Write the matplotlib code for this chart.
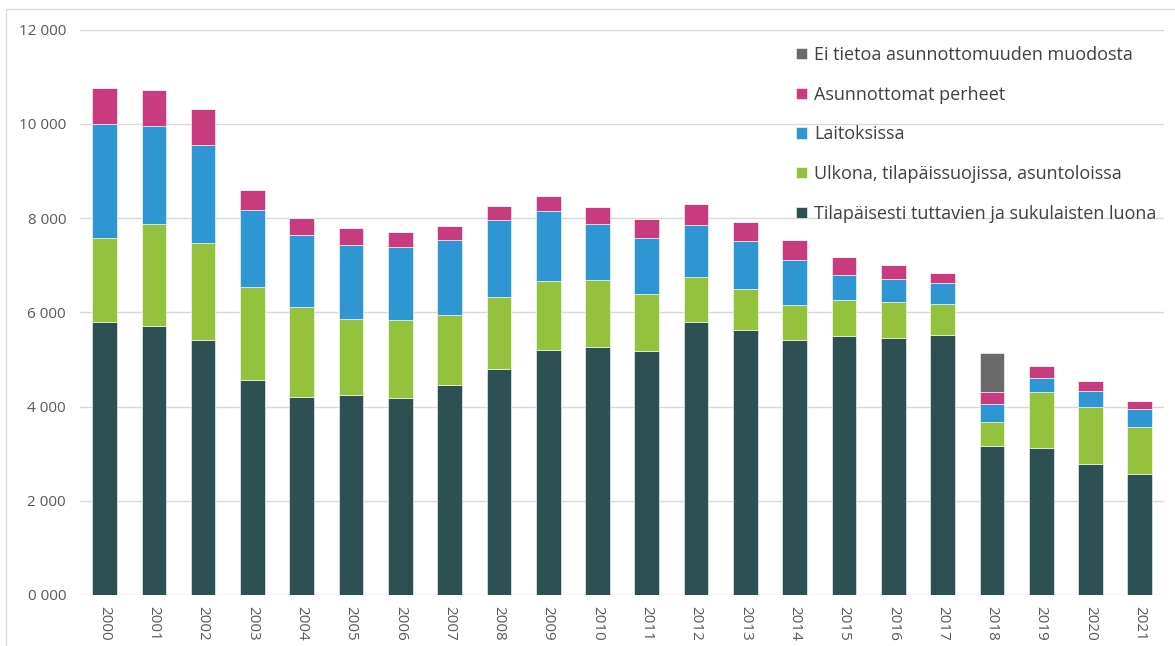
import numpy as np
import matplotlib.pyplot as plt
from matplotlib.patches import Rectangle

years = [str(y) for y in range(2000, 2022)]
tuttavat = [5800, 5710, 5420, 4570, 4200, 4240, 4180, 4460, 4800, 5200, 5260,
            5180, 5800, 5630, 5420, 5500, 5460, 5520, 3160, 3120, 2770, 2570]
ulkona = [1780, 2170, 2060, 1970, 1910, 1620, 1650, 1490, 1530, 1455, 1430,
          1210, 955, 870, 740, 770, 760, 660, 520, 1180, 1220, 990]
laitokset = [2420, 2080, 2080, 1635, 1530, 1565, 1560, 1580, 1635, 1495, 1190,
             1185, 1105, 1020, 955, 530, 490, 445, 375, 310, 350, 390]
perheet = [765, 765, 765, 425, 365, 355, 310, 305, 290, 320, 355,
           415, 445, 405, 425, 380, 300, 210, 260, 260, 200, 165]
ei_tietoa = [0, 0, 0, 0, 0, 0, 0, 0, 0, 0, 0,
             0, 0, 0, 0, 0, 0, 0, 815, 0, 0, 0]

series = [
    ("Tilapäisesti tuttavien ja sukulaisten luona", tuttavat, "#2d5053"),
    ("Ulkona, tilapäissuojissa, asuntoloissa", ulkona, "#95c23d"),
    ("Laitoksissa", laitokset, "#2f96d4"),
    ("Asunnottomat perheet", perheet, "#c83c7f"),
    ("Ei tietoa asunnottomuuden muodosta", ei_tietoa, "#6a6a6a"),
]

plt.rcParams['font.family'] = ['Open Sans', 'DejaVu Sans']
fig = plt.figure(figsize=(11.75, 6.46), dpi=100)
ax = fig.add_axes([0.068, 0.079, 0.923, 0.875])

x = np.arange(len(years))
bottom = np.zeros(len(years))
handles = []
for name, vals, col in series:
    b = ax.bar(x, vals, 0.5, bottom=bottom, color=col, label=name,
               edgecolor='white', linewidth=0.4, zorder=3)
    bottom += np.array(vals)
    handles.append(b)

ax.set_xlim(-0.5, len(years) - 0.5)
ax.set_ylim(0, 12000)
ax.set_yticks(range(0, 12001, 2000))
ax.set_yticklabels([f"{v // 1000} 000" for v in range(0, 12001, 2000)])
ax.set_xticks(x)
ax.set_xticklabels(years, rotation=-90)
ax.tick_params(length=0, labelsize=11, labelcolor='#595959')
ax.tick_params(axis='y', pad=10)
ax.tick_params(axis='x', pad=8)
ax.grid(axis='y', color='#d9d9d9', linewidth=1, zorder=0)
for s in ax.spines.values():
    s.set_visible(False)

leg = ax.legend(handles[::-1], [s[0] for s in series][::-1],
                loc='upper right', bbox_to_anchor=(1.008, 1.0), frameon=False,
                fontsize=13, labelspacing=1.2, handlelength=0.6,
                handleheight=0.6, handletextpad=0.4, labelcolor='#404040')

fig.patches.append(Rectangle((6 / 1175, -0.1), 1.2, 1 - 9 / 646 + 0.1,
                             transform=fig.transFigure, fill=False,
                             edgecolor='#d9d9d9', linewidth=1))

fig.savefig("out.png", dpi=100)
